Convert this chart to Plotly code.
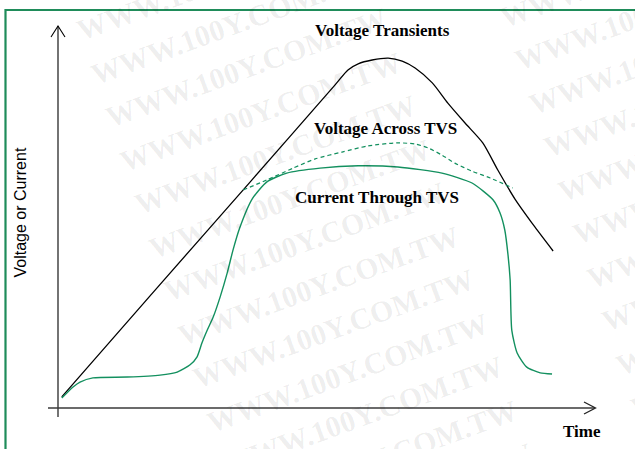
import math
import plotly.graph_objects as go

# ---------------- data (time units 0..10 along the time axis, arbitrary amplitude units) -------------
t_transient = [0.07, 1.71, 3.58, 5.16, 5.40, 5.59, 5.85, 6.15, 6.41, 6.65, 6.97, 7.26, 7.58, 7.91, 8.19, 8.51, 8.88, 9.22]
v_transient = [0.29, 2.93, 5.92, 8.46, 8.85, 9.01, 9.11, 9.16, 9.08, 8.90, 8.51, 7.98, 7.46, 6.94, 6.23, 5.47, 4.74, 4.11]

t_tvs_voltage = [3.45, 3.89, 4.38, 4.79, 5.29, 5.77, 6.31, 6.65, 6.89, 7.15, 7.39, 7.71, 8.05, 8.47]
v_tvs_voltage = [5.71, 5.97, 6.28, 6.52, 6.70, 6.86, 6.94, 6.91, 6.81, 6.62, 6.41, 6.20, 6.02, 5.76]

t_tvs_current = [0.07, 0.28, 0.41, 0.65, 1.29, 1.90, 2.22, 2.46, 2.59, 2.68, 2.78, 2.89, 3.02, 3.15, 3.26, 3.38,
                 3.62, 3.89, 4.26, 4.88, 5.59, 6.33, 7.15, 7.71, 8.10, 8.23, 8.32, 8.38, 8.42, 8.45, 8.55,
                 8.73, 8.98, 9.20]
i_tvs_current = [0.26, 0.55, 0.68, 0.79, 0.81, 0.86, 0.94, 1.13, 1.34, 1.70, 2.04, 2.38, 2.91, 3.53, 4.14, 4.70,
                 5.48, 5.92, 6.15, 6.28, 6.34, 6.31, 6.15, 5.89, 5.45, 5.11, 4.66, 4.01, 3.35, 2.04, 1.44,
                 1.07, 0.92, 0.89]

series_labels = ["Voltage Transients", "Voltage Across TVS", "Current Through TVS"]
x_title = "Time"
y_title = "Voltage or Current"
watermark = "WWW.100Y.COM.TW"

# ---------------- layout geometry (pixels) ----------------
W, H = 635, 449
X0PX, Y0PX = 58, 408          # axis origin in pixels
PX_PER_T, PX_PER_V = 53.7, 38.2

GREEN = "#13905f"
BORDER = "#1f8c5a"


def tx(px):
    return (px - X0PX) / PX_PER_T


def vy(py):
    return (Y0PX - py) / PX_PER_V


def pxp(px):
    return px / W


def pyp(py):
    return 1 - py / H


fig = go.Figure()
fig.add_trace(go.Scatter(x=t_transient, y=v_transient, mode="lines", name=series_labels[0],
                         line=dict(color="black", width=1.3, shape="spline", smoothing=0.7),
                         hoverinfo="skip"))
fig.add_trace(go.Scatter(x=t_tvs_voltage, y=v_tvs_voltage, mode="lines", name=series_labels[1],
                         line=dict(color=GREEN, width=1.2, dash="4px,3px", shape="spline", smoothing=0.7),
                         hoverinfo="skip"))
fig.add_trace(go.Scatter(x=t_tvs_current, y=i_tvs_current, mode="lines", name=series_labels[2],
                         line=dict(color=GREEN, width=1.4, shape="spline", smoothing=0.6),
                         hoverinfo="skip"))

shapes = []
# border (cropped on right and bottom)
shapes.append(dict(type="rect", xref="paper", yref="paper", x0=pxp(5.5), x1=pxp(W + 20),
                   y0=pyp(H + 20), y1=pyp(10), line=dict(color=BORDER, width=2.2), layer="below"))
# y axis with open arrow
shapes.append(dict(type="line", xref="x", yref="y", x0=tx(58), x1=tx(58), y0=vy(417), y1=vy(26),
                   line=dict(color="black", width=1.1)))
shapes.append(dict(type="path", xref="x", yref="y",
                   path=f"M {tx(51)},{vy(37)} L {tx(58)},{vy(26)} L {tx(65)},{vy(37)}",
                   line=dict(color="black", width=1.1)))
# x axis with open arrow
shapes.append(dict(type="line", xref="x", yref="y", x0=tx(48), x1=tx(595), y0=vy(408), y1=vy(408),
                   line=dict(color="#3a3a3a", width=1.7)))
shapes.append(dict(type="path", xref="x", yref="y",
                   path=f"M {tx(584)},{vy(402)} L {tx(595.5)},{vy(408)} L {tx(584)},{vy(414)}",
                   line=dict(color="#222222", width=1.3)))

annotations = []
# watermark rows (two diagonal columns)
L = 324  # text length px
ang = math.radians(20)
cx_off = (L / 2) * math.cos(ang) - 10 * math.sin(ang)
cy_off = -(L / 2) * math.sin(ang) - 10 * math.cos(ang)
starts = []
for k in range(-8, 6):
    starts.append((170 + 14.5 * k, 350 + 43.5 * k))
for j in range(-3, 9):
    starts.append((506.5 + 14.5 * j, 75.5 + 43.5 * j))
for sx, sy in starts:
    annotations.append(dict(xref="paper", yref="paper", x=pxp(sx + cx_off), y=pyp(sy + cy_off),
                            text="<b>" + watermark + "</b>", showarrow=False, textangle=-20,
                            xanchor="center", yanchor="middle",
                            font=dict(family="Liberation Serif, Times New Roman, serif", size=30,
                                      color="rgba(0,0,0,0.07)")))

serif_b = dict(family="Liberation Serif, Times New Roman, serif", size=17, color="black")
label_pos = [(383, 30), (385, 128), (377, 197)]
for txt, (lx, ly) in zip(series_labels, label_pos):
    annotations.append(dict(xref="paper", yref="paper", x=pxp(lx), y=pyp(ly), text="<b>" + txt + "</b>",
                            showarrow=False, xanchor="center", yanchor="middle", font=serif_b))
annotations.append(dict(xref="paper", yref="paper", x=pxp(581.5), y=pyp(431), text="<b>" + x_title + "</b>",
                        showarrow=False, xanchor="center", yanchor="middle", font=serif_b))
annotations.append(dict(xref="paper", yref="paper", x=pxp(19.5), y=pyp(213), text=y_title, textangle=-90,
                        showarrow=False, xanchor="center", yanchor="middle",
                        font=dict(family="Liberation Sans, Arial, sans-serif", size=16, color="black")))

fig.update_layout(
    width=W, height=H,
    margin=dict(l=0, r=0, t=0, b=0),
    paper_bgcolor="white", plot_bgcolor="white",
    showlegend=False,
    xaxis=dict(range=[tx(0), tx(W)], visible=False, fixedrange=True),
    yaxis=dict(range=[vy(H), vy(0)], visible=False, fixedrange=True),
    shapes=shapes,
    annotations=annotations,
)

fig.write_html("out.html", config={"displayModeBar": False},
               post_script="document.body.style.margin='0';document.body.style.overflow='hidden';")
